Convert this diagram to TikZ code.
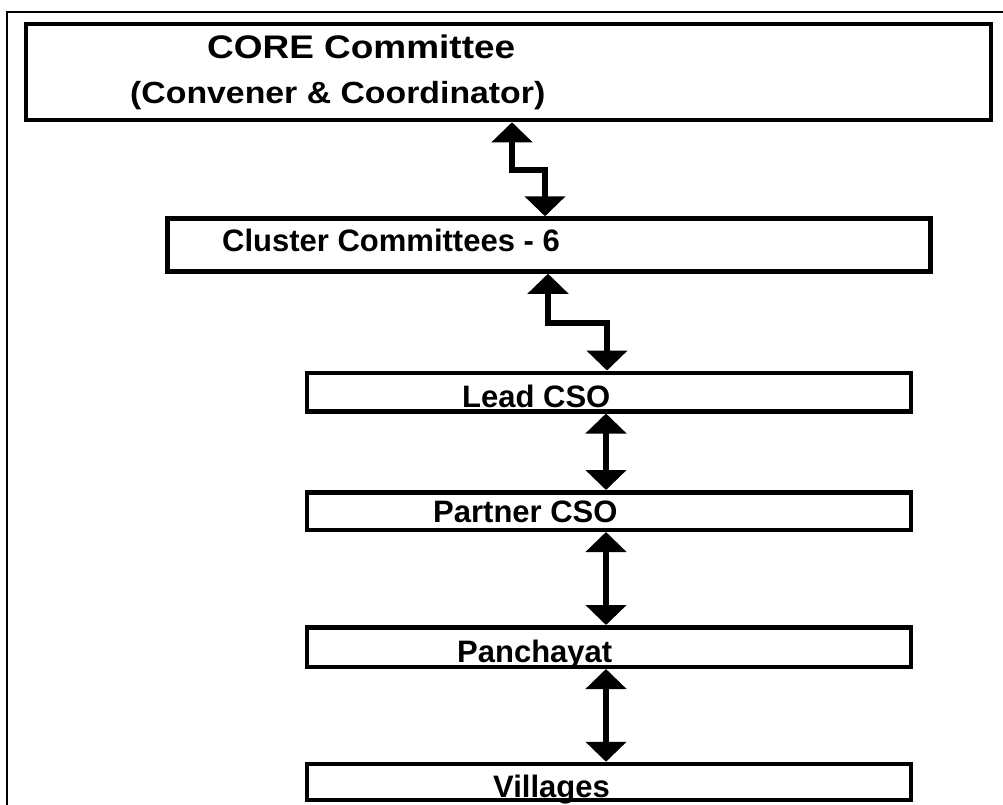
\documentclass[tikz,border=0pt]{standalone}
\usepackage{fontspec}
\setmainfont{Liberation Sans}
\usetikzlibrary{arrows.meta}
\tikzset{
  box/.style={draw, line width=4.5pt, rectangle, inner sep=0pt, fill=white},
  lbl/.style={anchor=base west, inner sep=0pt, font=\bfseries},
  conn/.style={line width=6pt, line join=miter,
    {Triangle[length=20pt,width=40pt]}-{Triangle[length=20pt,width=40pt]}},
}
\begin{document}
\begin{tikzpicture}[x=1pt,y=-1pt]
\useasboundingbox (0,0) rectangle (1003,804);
\clip (0,0) rectangle (1003,804);
% outer frame
\draw[line width=2pt] (7,12) rectangle (1010,815);
% boxes
\node[box, minimum width=965pt, minimum height=96pt] (core) at (508.5,72) {};
\node[box, minimum width=763pt, minimum height=53pt] (cluster) at (549,245) {};
\node[box, minimum width=604pt, minimum height=38.5pt] (lead) at (609,392) {};
\node[box, minimum width=604pt, minimum height=37.5pt] (partner) at (609,511) {};
\node[box, minimum width=604pt, minimum height=39.5pt] (panch) at (609,647) {};
\node[box, minimum width=604pt, minimum height=36pt] (vill) at (609,782) {};
% labels
\node[lbl] (tcore) at (207,58) {\fontsize{32}{32}\selectfont\scalebox{1.155}[1.02]{CORE Committee}};
\node[lbl] (tconv) at (130,103) {\fontsize{30}{30}\selectfont\scalebox{1.127}[1.02]{(Convener \& Coordinator)}};
\node[lbl] (tclus) at (222,251) {\fontsize{31}{31}\selectfont Cluster Committees - 6};
\node[lbl] (tlead) at (462,407) {\fontsize{31}{31}\selectfont Lead CSO};
\node[lbl] (tpart) at (433,522) {\fontsize{31}{31}\selectfont Partner CSO};
\node[lbl] (tpan) at (457,662) {\fontsize{31}{31}\selectfont Panchayat};
\node[lbl] (tvil) at (493,797) {\fontsize{31}{31}\selectfont Villages};
% connectors
\coordinate (k1) at (512,170);
\coordinate (k2) at (545,170);
\coordinate (k3) at (548,323);
\coordinate (k4) at (607,323);
\coordinate (c5) at (606,0);
\draw[conn] (core.south -| k1) -- (k1) -- (k2) -- (cluster.north -| k2);
\draw[conn] (cluster.south -| k3) -- (k3) -- (k4) -- (lead.north -| k4);
\draw[conn] (lead.south -| c5) -- (partner.north -| c5);
\draw[conn] (partner.south -| c5) -- (panch.north -| c5);
\draw[conn] (panch.south -| c5) -- (vill.north -| c5);
\end{tikzpicture}
\end{document}
